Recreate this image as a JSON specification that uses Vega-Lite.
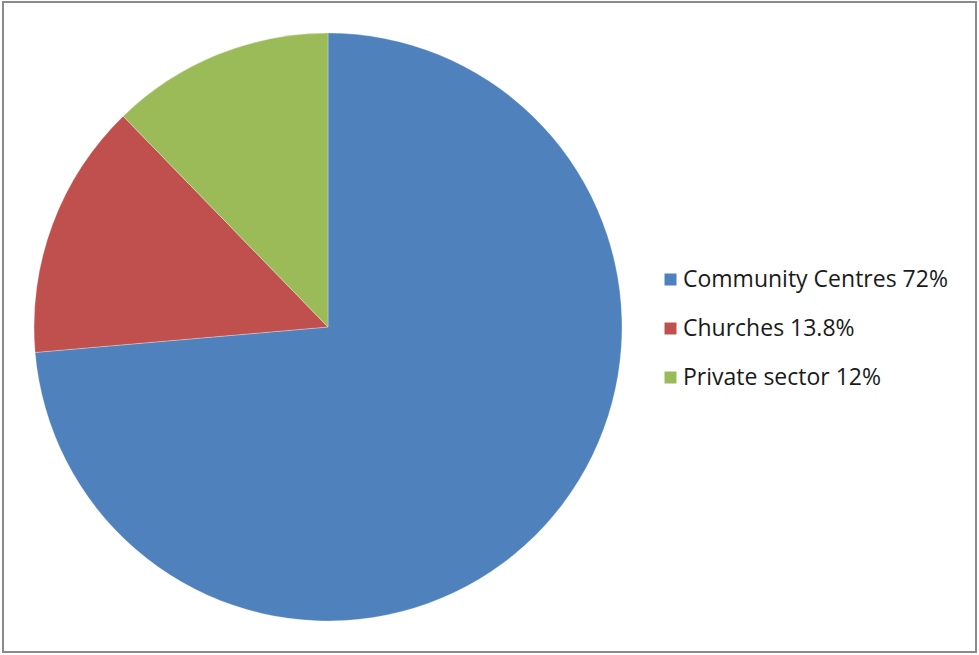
{
  "$schema": "https://vega.github.io/schema/vega-lite/v6.json",
  "width": 979,
  "height": 655,
  "autosize": {"type": "fit", "contains": "padding"},
  "padding": {"left": 2, "top": 1, "right": 2, "bottom": 2},
  "background": "white",
  "config": {"view": {"stroke": null}},
  "data": {
    "values": [
      {"category": "Community Centres 72%", "value": 72, "order": 1},
      {"category": "Churches 13.8%", "value": 13.8, "order": 2},
      {"category": "Private sector 12%", "value": 12, "order": 3}
    ]
  },
  "layer": [
    {
      "mark": {"type": "arc", "x": {"expr": "height/2"}, "y": {"expr": "height/2"}, "outerRadius": 294, "stroke": "white", "strokeWidth": 0.3},
      "encoding": {
        "theta": {"field": "value", "type": "quantitative", "stack": true},
        "order": {"field": "order", "type": "quantitative"},
        "color": {
          "field": "category",
          "type": "nominal",
          "sort": ["Community Centres 72%", "Churches 13.8%", "Private sector 12%"],
          "scale": {"domain": ["Community Centres 72%", "Churches 13.8%", "Private sector 12%"], "range": ["#4F81BD", "#C0504D", "#9BBB59"]},
          "legend": {
            "title": null,
            "orient": "none",
            "legendX": 656,
            "legendY": 266,
            "symbolType": "square",
            "symbolSize": 144,
            "symbolStrokeWidth": 0,
            "labelFont": "Open Sans",
            "labelFontSize": 23,
            "labelLimit": 500,
            "labelColor": "#1a1a1a",
            "labelOffset": 1,
            "rowPadding": 25,
            "padding": 0
          }
        }
      }
    },
    {
      "mark": {"type": "rect", "fill": null, "stroke": "#8a8a8a", "strokeWidth": 2},
      "encoding": {}
    }
  ]
}
